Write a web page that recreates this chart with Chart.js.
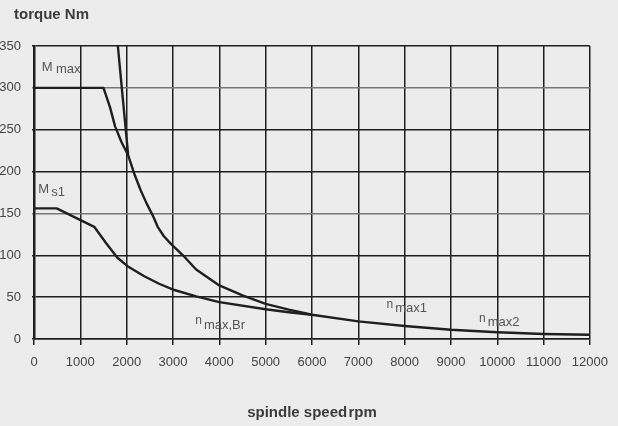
<!DOCTYPE html>
<html>
<head>
<meta charset="utf-8">
<script src="https://cdn.jsdelivr.net/npm/chart.js@4"></script>
<style>
  html, body { margin: 0; padding: 0; background: #ececec; }
  #wrap { width: 618px; height: 426px; }
</style>
</head>
<body>
<div id="wrap"><canvas id="chart" width="618" height="426"></canvas></div>
<script>
// Maximum torque curve (M max), speed in rpm, torque in Nm
const speedMax  = [0, 1500, 1640, 1750, 1890, 2030, 2160, 2300, 2430, 2560, 2670, 2800, 2950, 3250, 3500, 4000, 4500, 5000, 5500, 6000, 7000, 8000, 9000, 10000, 11000, 12000];
const torqueMax = [300, 300, 277, 254, 235, 220, 198, 178, 162, 148, 134, 123, 114, 98, 83, 64, 52, 42, 35, 29, 21, 15.5, 11, 8, 6, 5];

// Continuous duty torque curve (M s1)
const speedS1  = [0, 490, 1300, 1550, 1800, 2020, 2380, 2700, 3030, 3500, 4000, 5000, 5500, 6000];
const torqueS1 = [156, 156, 134, 115, 97, 87, 75, 66, 58.5, 51, 44, 35.5, 32, 29];

// Steep limit line at the upper left
const speedLimit  = [1810, 2030];
const torqueLimit = [350, 221];

// Axis ticks
const speedTicks  = [0, 1000, 2000, 3000, 4000, 5000, 6000, 7000, 8000, 9000, 10000, 11000, 12000];
const torqueTicks = [0, 50, 100, 150, 200, 250, 300, 350];

const toPoints = (xs, ys) => xs.map((x, i) => ({ x: x, y: ys[i] }));

const INK = '#1f1f1f';
const LABEL = '#555555';
const FONT = '"Liberation Sans", Arial, sans-serif';

// Curve captions: main letter plus lowered index text, anchored in data units
const captions = [
  { x: 166,  y: 320.5, main: 'M', sub: 'max',    mainSize: 13, gap: 3.5, drop: 2 },
  { x: 93,   y: 175,   main: 'M', sub: 's1',     mainSize: 13, gap: 2,   drop: 3 },
  { x: 3481, y: 18,    main: 'n', sub: 'max,Br', mainSize: 12, gap: 2,   drop: 5 },
  { x: 7611, y: 37.4,  main: 'n', sub: 'max1',   mainSize: 12, gap: 2,   drop: 4 },
  { x: 9607, y: 20.7,  main: 'n', sub: 'max2',   mainSize: 12, gap: 2,   drop: 4 }
];

const captionPlugin = {
  id: 'captions',
  afterDatasetsDraw(chart) {
    const { ctx, scales } = chart;
    ctx.save();
    ctx.fillStyle = LABEL;
    ctx.textBaseline = 'alphabetic';
    ctx.textAlign = 'left';
    captions.forEach(c => {
      const px = scales.x.getPixelForValue(c.x);
      const py = scales.y.getPixelForValue(c.y);
      ctx.font = c.mainSize + 'px ' + FONT;
      ctx.fillText(c.main, px, py);
      const w = ctx.measureText(c.main).width;
      ctx.font = '13px ' + FONT;
      ctx.fillText(c.sub, px + w + c.gap, py + c.drop);
    });
    // value axis title
    ctx.fillStyle = '#3c3c3c';
    ctx.font = 'bold 15px ' + FONT;
    ctx.textBaseline = 'middle';
    ctx.fillText('torque Nm', 14, 15);
    ctx.restore();
  }
};

const lineStyle = {
  borderColor: INK,
  borderWidth: 2.4,
  pointRadius: 0,
  showLine: true,
  fill: false,
  tension: 0,
  borderJoinStyle: 'round'
};

const plainNumber = v => String(v);

new Chart(document.getElementById('chart'), {
  type: 'scatter',
  data: {
    datasets: [
      Object.assign({ label: 'M max', data: toPoints(speedMax, torqueMax) }, lineStyle),
      Object.assign({ label: 'M s1', data: toPoints(speedS1, torqueS1) }, lineStyle),
      Object.assign({ label: 'limit', data: toPoints(speedLimit, torqueLimit) }, lineStyle)
    ]
  },
  options: {
    responsive: false,
    animation: false,
    layout: { padding: { top: 46, right: 28, left: 0, bottom: 0 } },
    plugins: {
      legend: { display: false },
      tooltip: { enabled: false }
    },
    scales: {
      x: {
        type: 'linear',
        min: 0,
        max: 12000,
        afterBuildTicks: s => { s.ticks = speedTicks.map(v => ({ value: v })); },
        afterFit: s => { s.height = 87; },
        grid: {
          color: INK,
          lineWidth: 1.5,
          drawTicks: true,
          tickLength: 6,
          tickColor: INK
        },
        border: { color: INK, width: 1.5 },
        ticks: {
          color: '#444444',
          font: { family: FONT, size: 13 },
          padding: 10,
          maxRotation: 0,
          autoSkip: false,
          callback: plainNumber
        },
        title: {
          display: true,
          text: 'spindle speed\u200Arpm',
          color: '#3c3c3c',
          font: { family: FONT, size: 15, weight: 'bold' },
          padding: { top: 0, bottom: 4 }
        }
      },
      y: {
        type: 'linear',
        min: 0,
        max: 350,
        afterBuildTicks: s => { s.ticks = torqueTicks.map(v => ({ value: v })); },
        afterFit: s => { s.width = 34; },
        grid: {
          color: ctx => (ctx.tick && (ctx.tick.value === 300 || ctx.tick.value === 150)) ? '#777777' : INK,
          lineWidth: 1.5,
          drawTicks: true,
          tickLength: 2
        },
        border: { color: INK, width: 2.5 },
        ticks: {
          color: '#444444',
          font: { family: FONT, size: 13 },
          padding: 11,
          callback: plainNumber
        }
      }
    }
  },
  plugins: [captionPlugin]
});
</script>
</body>
</html>
